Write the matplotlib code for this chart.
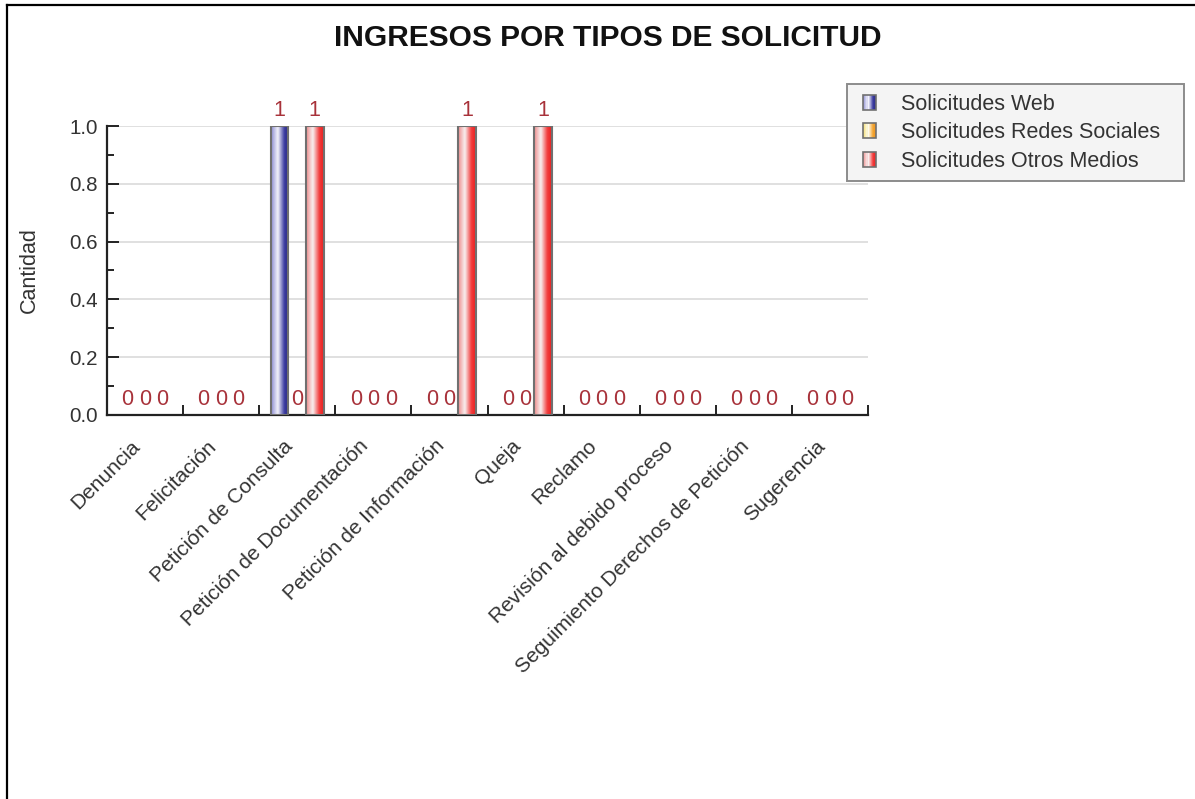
import numpy as np
import matplotlib
matplotlib.use("Agg")
import matplotlib.pyplot as plt
from matplotlib.colors import LinearSegmentedColormap
from matplotlib.patches import Rectangle
from matplotlib.legend_handler import HandlerBase
from matplotlib.lines import Line2D
from matplotlib.transforms import ScaledTranslation
from matplotlib.ticker import MultipleLocator, FixedLocator, FormatStrFormatter

plt.rcParams["font.family"] = ["Liberation Sans", "DejaVu Sans"]

# Data
categories = ["Denuncia", "Felicitación", "Petición de Consulta", "Petición de Documentación",
              "Petición de Información", "Queja", "Reclamo", "Revisión al debido proceso",
              "Seguimiento Derechos de Petición", "Sugerencia"]
web = [0, 0, 1, 0, 0, 0, 0, 0, 0, 0]
redes = [0, 0, 0, 0, 0, 0, 0, 0, 0, 0]
otros = [0, 0, 1, 0, 1, 1, 0, 0, 0, 0]
series_names = ["Solicitudes Web", "Solicitudes Redes Sociales", "Solicitudes Otros Medios"]

# cylinder-like gradients for each series
cmaps = [
    LinearSegmentedColormap.from_list("web", [(0, "#8c8cd2"), (0.38, "#f4f4fc"), (0.75, "#3c3ca0"), (1, "#2a2a84")]),
    LinearSegmentedColormap.from_list("redes", [(0, "#f2dc6a"), (0.38, "#fdfbee"), (0.75, "#f4a530"), (1, "#ee9420")]),
    LinearSegmentedColormap.from_list("otros", [(0, "#ee8c8c"), (0.38, "#f8f0f0"), (0.75, "#f23c3c"), (1, "#ea2020")]),
]
label_color = "#a8323a"
fs = 15.5

fig = plt.figure(figsize=(11.95, 7.99), dpi=100)
ax = fig.add_axes([107 / 1195, 1 - 415 / 799, 761 / 1195, 289 / 799])

x = np.arange(len(categories))
width = 0.23
grad = np.linspace(0, 1, 64).reshape(1, -1)

for i, (vals, cmap) in enumerate(zip([web, redes, otros], cmaps)):
    bars = ax.bar(x + (i - 1) * width, vals, width, facecolor="none",
                  edgecolor="#707070", linewidth=1.5, zorder=3)
    for rect, v in zip(bars, vals):
        x0, w, h = rect.get_x(), rect.get_width(), rect.get_height()
        if h > 0:
            ax.imshow(grad, cmap=cmap, extent=[x0, x0 + w, 0, h], aspect="auto",
                      interpolation="bicubic", zorder=2.6)
        else:
            rect.set_linewidth(0)
        ax.annotate(f"{v:d}", (x0 + w / 2, h), xytext=(0, 7.5), textcoords="offset points",
                    ha="center", va="baseline", color=label_color, fontsize=fs)

ax.set_xlim(-0.5, len(categories) - 0.5)
ax.set_ylim(0, 1.0)

# axes styling
for s in ["top", "right"]:
    ax.spines[s].set_visible(False)
for s in ["left", "bottom"]:
    ax.spines[s].set_color("#222222")
    ax.spines[s].set_linewidth(1.6)

ax.yaxis.set_major_locator(MultipleLocator(0.2))
ax.yaxis.set_minor_locator(MultipleLocator(0.1))
ax.yaxis.set_major_formatter(FormatStrFormatter("%.1f"))
ax.tick_params(axis="y", which="major", direction="in", length=8.6, width=1.4,
               color="#222222", labelsize=14.8, labelcolor="#333333", pad=6.5)
ax.tick_params(axis="y", which="minor", direction="in", length=5, width=1.4, color="#222222")
ax.grid(axis="y", which="major", color="#dddddd", linewidth=1.3, zorder=0)
ax.set_axisbelow(True)

ax.set_xticks(x)
ax.set_xticklabels(categories, rotation=45, ha="right", va="baseline", rotation_mode="anchor")
ax.xaxis.set_minor_locator(FixedLocator(np.arange(-0.5, len(categories), 1.0)))
ax.tick_params(axis="x", which="major", length=0, labelsize=15, labelcolor="#333333", pad=23)
ax.tick_params(axis="x", which="minor", direction="in", length=7, width=1.4, color="#222222")
# labels sit a touch left of the category centre
shift = ScaledTranslation(-0.04, 0, fig.dpi_scale_trans)
for lab in ax.get_xticklabels():
    lab.set_transform(lab.get_transform() + shift)

ax.set_ylabel("Cantidad", fontsize=fs, color="#333333")
ax.yaxis.set_label_coords(-0.088, 0.5)

fig.text(608 / 1195, 1 - 38 / 799, "INGRESOS POR TIPOS DE SOLICITUD", ha="center", va="center",
         fontsize=21.5, fontweight="bold", color="#111111")


# gradient swatches for the legend
class GradSwatch:
    def __init__(self, cmap):
        self.cmap = cmap


class GradHandler(HandlerBase):
    def create_artists(self, legend, orig_handle, xdescent, ydescent, width, height, fontsize, trans):
        n = 12
        sw = width * 0.66  # swatch drawn in the right part of the handle box
        x0 = -xdescent + width - sw
        arts = []
        for k in range(n):
            arts.append(Rectangle((x0 + sw * k / n, -ydescent), sw / n, height,
                                  facecolor=orig_handle.cmap((k + 0.5) / n), edgecolor="none",
                                  transform=trans))
        arts.append(Rectangle((x0, -ydescent), sw, height, facecolor="none",
                              edgecolor="#707070", linewidth=1.2, transform=trans))
        return arts


handles = [GradSwatch(c) for c in cmaps]
leg = fig.legend(handles, series_names, handler_map={GradSwatch: GradHandler()},
                 loc="upper left", bbox_to_anchor=(847 / 1195, 1 - 181 / 799, 337 / 1195, 97 / 799),
                 mode="expand", fontsize=fs, frameon=True, fancybox=False, framealpha=1,
                 facecolor="#f4f4f4", edgecolor="#8c8c8c", handlelength=0.9,
                 handleheight=0.7, handletextpad=1.15, labelspacing=0.35,
                 borderpad=0.45, borderaxespad=0)
leg.get_frame().set_linewidth(1.4)
for t in leg.get_texts():
    t.set_color("#333333")

# outer frame lines (top and left edges of the chart container)
fig.add_artist(Line2D([7 / 1195, 1], [1 - 5 / 799, 1 - 5 / 799], color="black", linewidth=1.6,
                      transform=fig.transFigure))
fig.add_artist(Line2D([7 / 1195, 7 / 1195], [0, 1 - 5 / 799], color="black", linewidth=1.6,
                      transform=fig.transFigure))

fig.savefig("out.png", dpi=100)
